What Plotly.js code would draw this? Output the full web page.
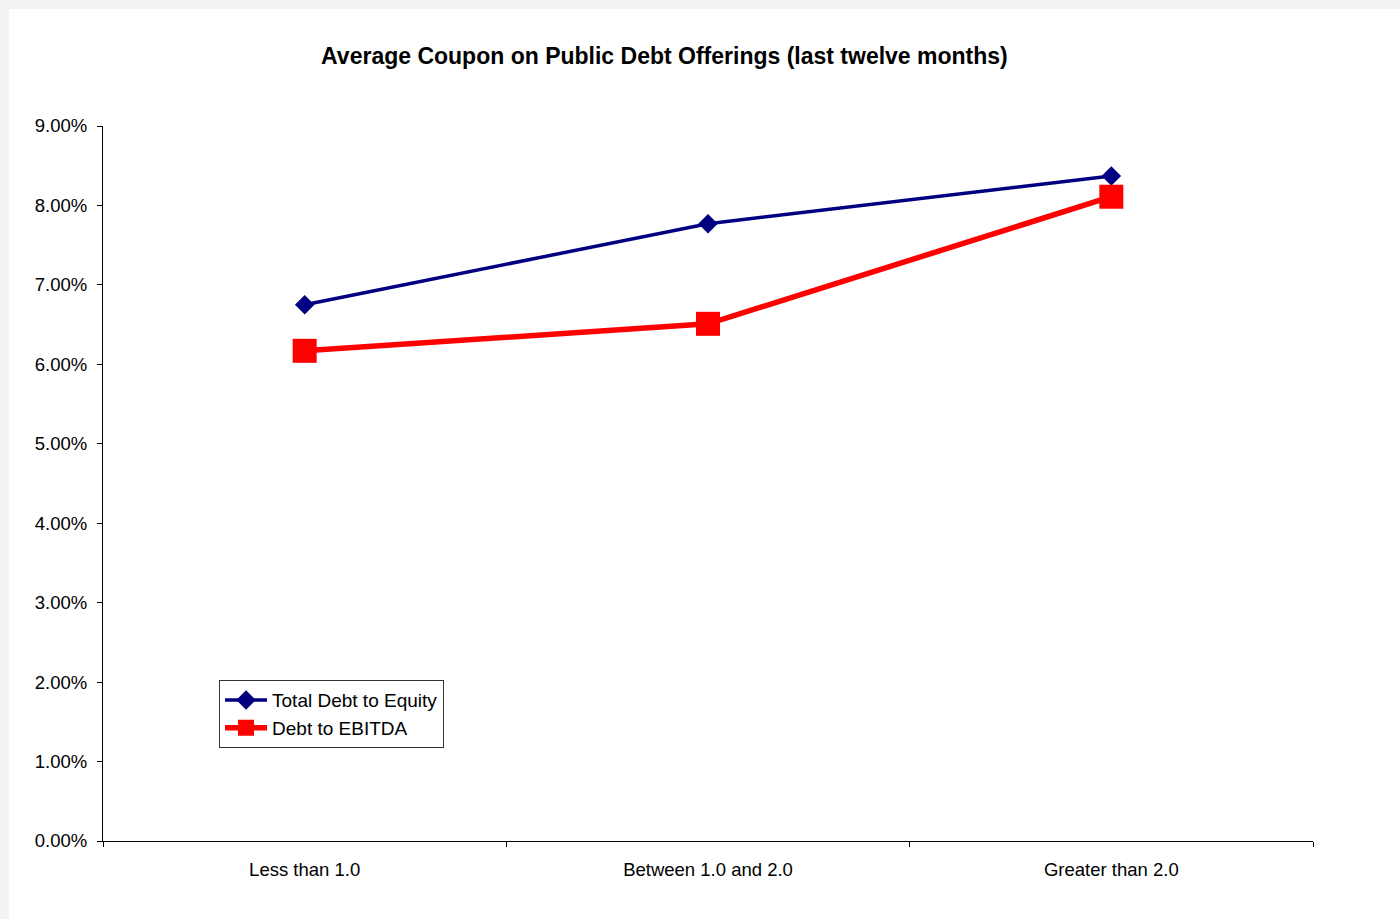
<!DOCTYPE html>
<html>
<head>
<meta charset="utf-8">
<script src="https://cdn.plot.ly/plotly-3.0.1.min.js"></script>
<style>
  html, body { margin: 0; padding: 0; background: #f3f3f3; width: 1400px; height: 919px; overflow: hidden; }
  #chart { position: absolute; left: 9px; top: 9px; width: 1391px; height: 910px; background: #ffffff; }
</style>
</head>
<body>
<div id="chart"></div>
<script>
// Leverage buckets on the category axis
const categories = ['Less than 1.0', 'Between 1.0 and 2.0', 'Greater than 2.0'];

// Average coupon (as a fraction) for each leverage measure
const debtToEquity = [0.0675, 0.0777, 0.0837];
const debtToEbitda = [0.0617, 0.0651, 0.0811];

// Y axis ticks
const yTickVals = [0, 0.01, 0.02, 0.03, 0.04, 0.05, 0.06, 0.07, 0.08, 0.09];

const font = { family: 'Liberation Sans, Arial, sans-serif', color: '#000000' };

const traces = [
  {
    x: categories,
    y: debtToEquity,
    name: 'Total Debt to Equity',
    type: 'scatter',
    mode: 'lines+markers',
    line: { color: '#000080', width: 3.5 },
    marker: { symbol: 'diamond', size: 15, color: '#000080' }
  },
  {
    x: categories,
    y: debtToEbitda,
    name: 'Debt to EBITDA',
    type: 'scatter',
    mode: 'lines+markers',
    line: { color: '#ff0000', width: 5.5 },
    marker: { symbol: 'square', size: 24, color: '#ff0000' }
  }
];

const layout = {
  width: 1391,
  height: 910,
  paper_bgcolor: '#ffffff',
  plot_bgcolor: '#ffffff',
  margin: { l: 94, r: 87, t: 117, b: 78 },
  font: Object.assign({ size: 18.5 }, font),
  title: {
    text: '<b>Average Coupon on Public Debt Offerings (last twelve months)</b>',
    font: Object.assign({ size: 23 }, font),
    x: 0.464,
    xanchor: 'center',
    xref: 'paper',
    y: 0.948,
    yanchor: 'middle'
  },
  xaxis: {
    type: 'category',
    range: [-0.5, 2.5],
    showline: true,
    linecolor: '#000000',
    linewidth: 1,
    ticks: 'outside',
    tickson: 'boundaries',
    ticklen: 5,
    tickcolor: '#000000',
    showgrid: false,
    zeroline: false,
    ticklabelstandoff: 12,
    tickfont: Object.assign({ size: 18.5 }, font),
    fixedrange: true
  },
  yaxis: {
    range: [0, 0.09],
    tickvals: yTickVals,
    tickformat: '.2%',
    showline: true,
    linecolor: '#000000',
    linewidth: 1,
    ticks: 'outside',
    ticklen: 5,
    tickcolor: '#000000',
    showgrid: false,
    zeroline: false,
    ticklabelstandoff: 6,
    tickfont: Object.assign({ size: 18.5 }, font),
    fixedrange: true
  },
  showlegend: true,
  legend: {
    x: 0.0959,
    y: 0.225,
    xanchor: 'left',
    yanchor: 'top',
    bgcolor: '#ffffff',
    bordercolor: '#333333',
    borderwidth: 1,
    itemwidth: 42,
    font: Object.assign({ size: 19 }, font),
    tracegroupgap: 0
  }
};

Plotly.newPlot('chart', traces, layout, { displayModeBar: false, staticPlot: true });
</script>
</body>
</html>
